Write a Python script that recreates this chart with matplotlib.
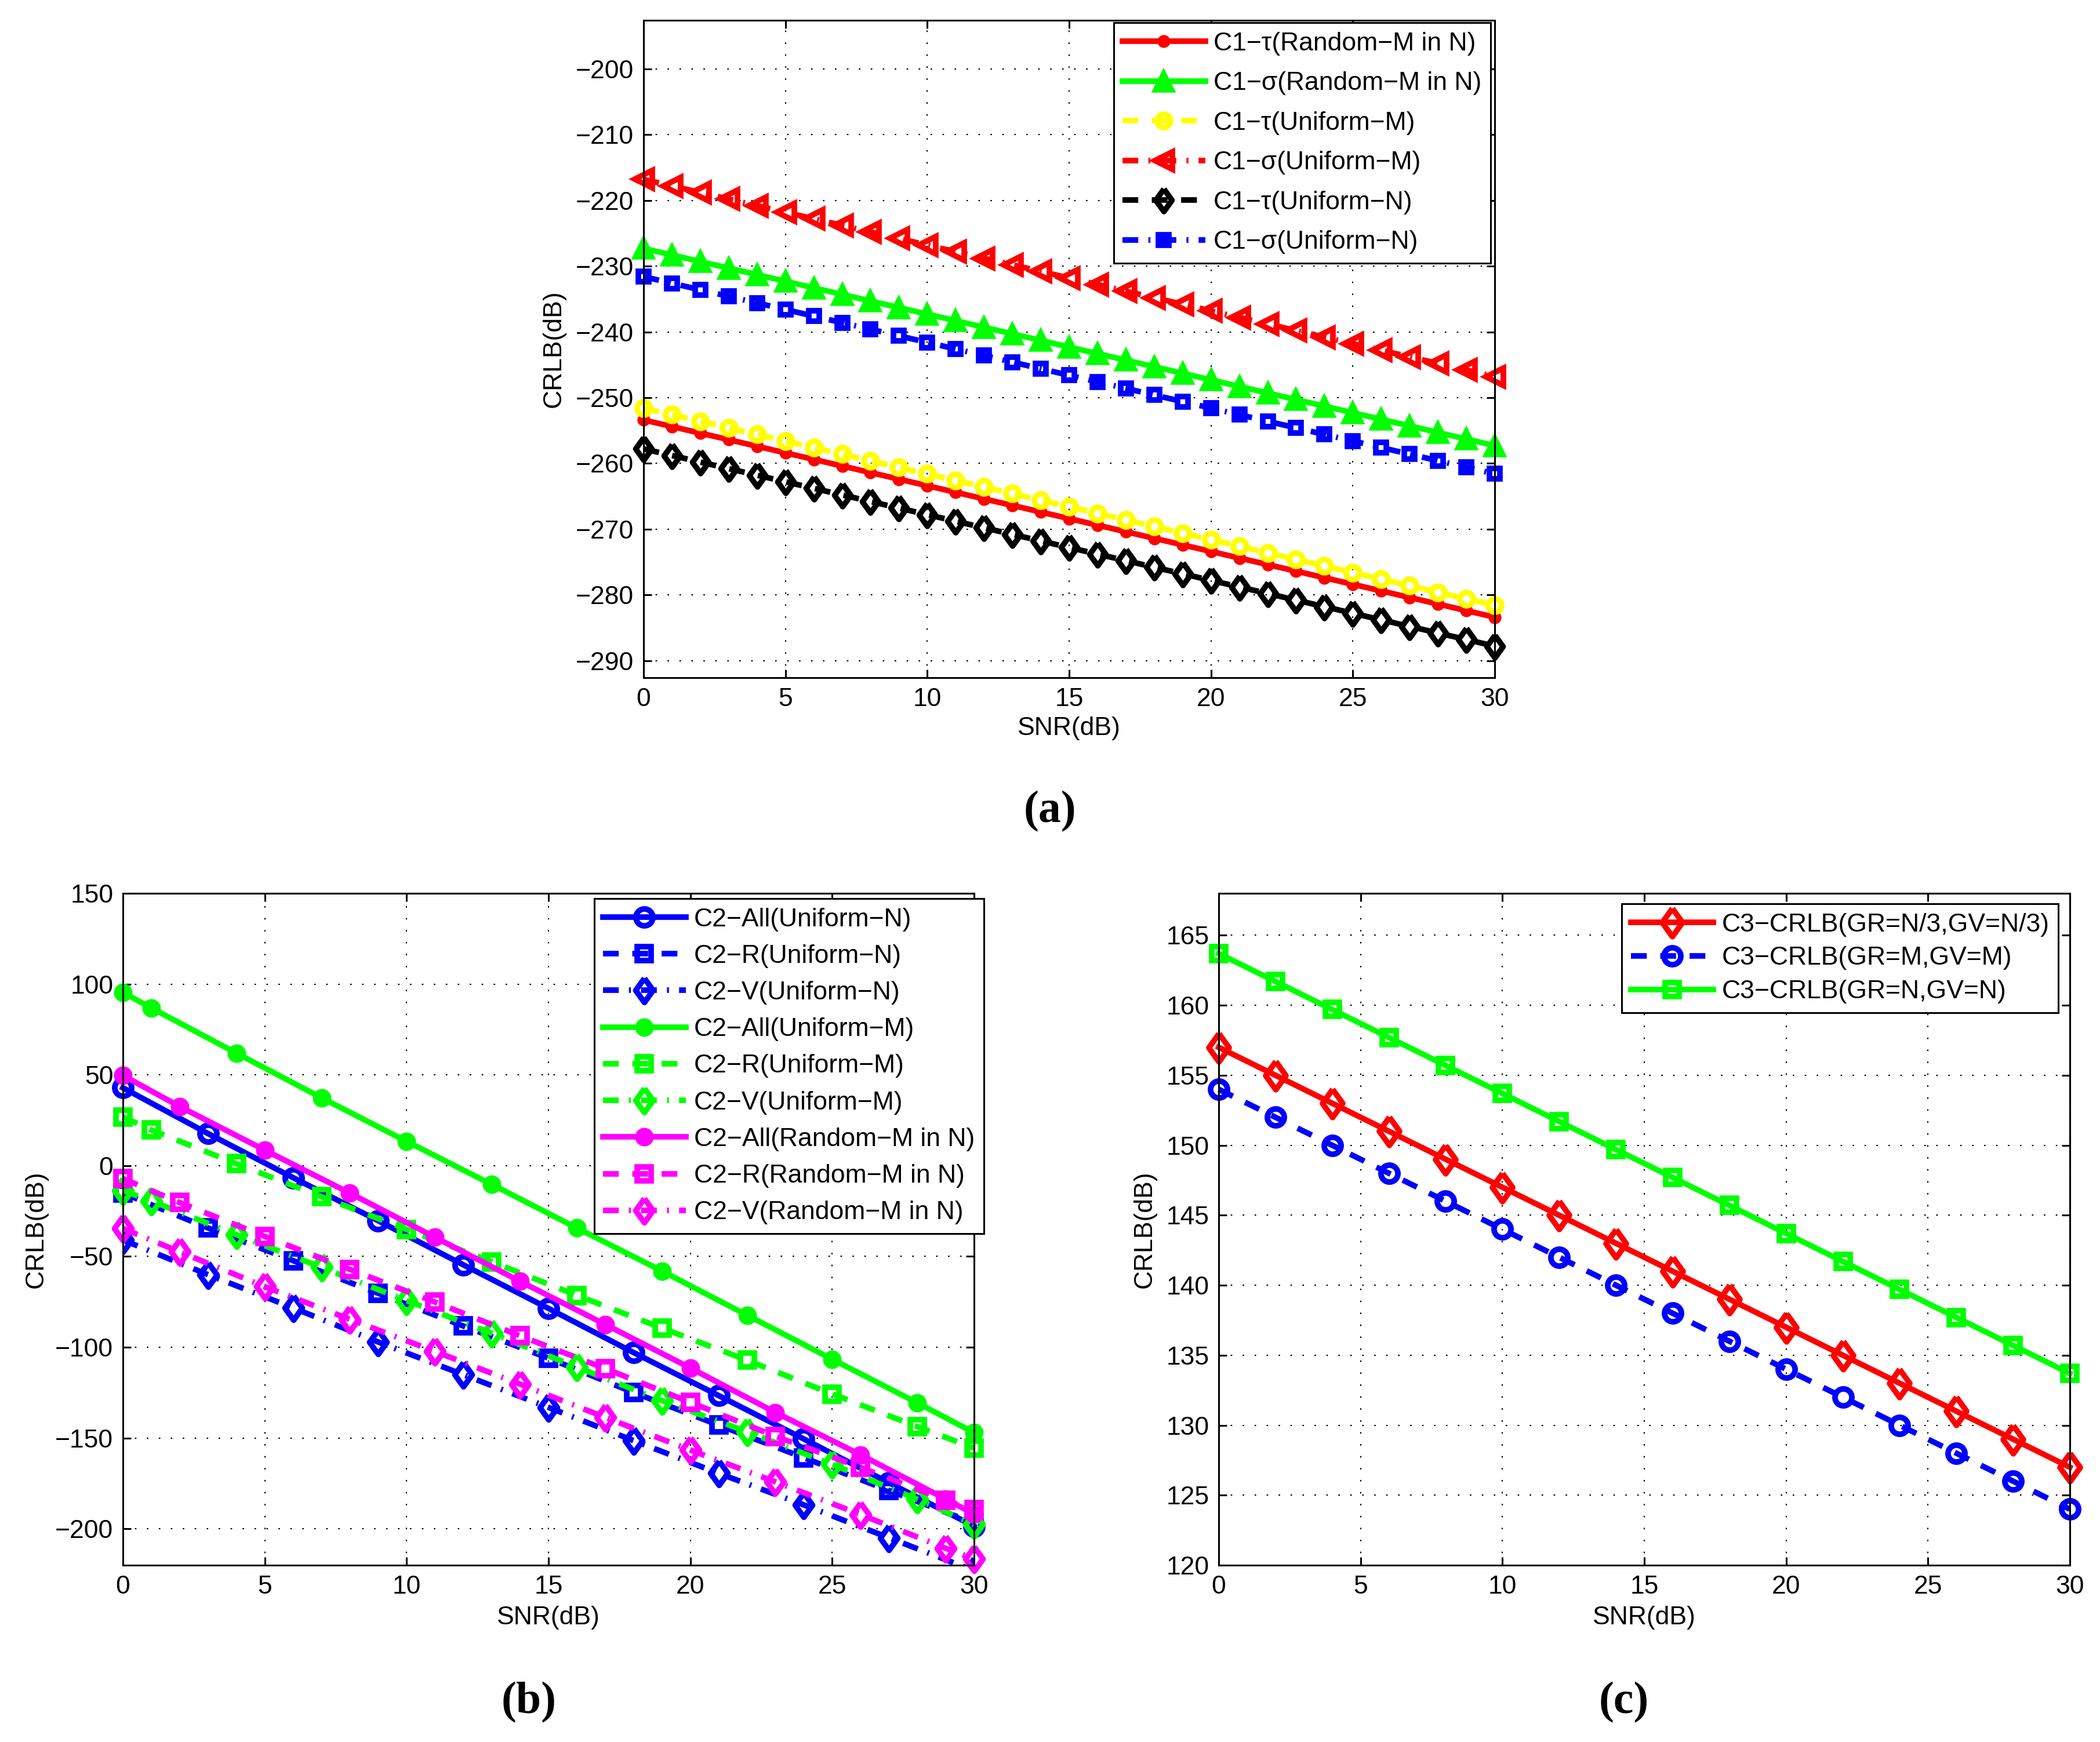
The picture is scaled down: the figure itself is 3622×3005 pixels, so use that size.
import matplotlib
matplotlib.use("Agg")
import matplotlib.pyplot as plt
from matplotlib.markers import MarkerStyle

# ── Data ──────────────────────────────────────────────────────────────────────
SNR_A = [0, 1, 2, 3, 4, 5, 6, 7, 8, 9, 10, 11, 12, 13, 14, 15,
         16, 17, 18, 19, 20, 21, 22, 23, 24, 25, 26, 27, 28, 29, 30]
C1_TAU_RM = [-253.4, -254.4, -255.4, -256.4, -257.4, -258.4, -259.4, -260.4,
             -261.4, -262.4, -263.4, -264.4, -265.4, -266.4, -267.4, -268.4,
             -269.4, -270.4, -271.4, -272.4, -273.4, -274.4, -275.4, -276.4,
             -277.4, -278.4, -279.4, -280.4, -281.4, -282.4, -283.4]
C1_SIG_RM = [-227.3, -228.3, -229.3, -230.3, -231.3, -232.3, -233.3, -234.3,
             -235.3, -236.3, -237.3, -238.3, -239.3, -240.3, -241.3, -242.3,
             -243.3, -244.3, -245.3, -246.3, -247.3, -248.3, -249.3, -250.3,
             -251.3, -252.3, -253.3, -254.3, -255.3, -256.3, -257.3]
C1_TAU_UM = [-251.6, -252.6, -253.6, -254.6, -255.6, -256.6, -257.6, -258.6,
             -259.6, -260.6, -261.6, -262.6, -263.6, -264.6, -265.6, -266.6,
             -267.6, -268.6, -269.6, -270.6, -271.6, -272.6, -273.6, -274.6,
             -275.6, -276.6, -277.6, -278.6, -279.6, -280.6, -281.6]
C1_SIG_UM = [-216.8, -217.8, -218.8, -219.8, -220.8, -221.8, -222.8, -223.8,
             -224.8, -225.8, -226.8, -227.8, -228.8, -229.8, -230.8, -231.8,
             -232.8, -233.8, -234.8, -235.8, -236.8, -237.8, -238.8, -239.8,
             -240.8, -241.8, -242.8, -243.8, -244.8, -245.8, -246.8]
C1_TAU_UN = [-257.8, -258.8, -259.8, -260.8, -261.8, -262.8, -263.8, -264.8,
             -265.8, -266.8, -267.8, -268.8, -269.8, -270.8, -271.8, -272.8,
             -273.8, -274.8, -275.8, -276.8, -277.8, -278.8, -279.8, -280.8,
             -281.8, -282.8, -283.8, -284.8, -285.8, -286.8, -287.8]
C1_SIG_UN = [-231.6, -232.6, -233.6, -234.6, -235.6, -236.6, -237.6, -238.6,
             -239.6, -240.6, -241.6, -242.6, -243.6, -244.6, -245.6, -246.6,
             -247.6, -248.6, -249.6, -250.6, -251.6, -252.6, -253.6, -254.6,
             -255.6, -256.6, -257.6, -258.6, -259.6, -260.6, -261.6]

SNR_B_UN = [0, 3, 6, 9, 12, 15, 18, 21, 24, 27, 30]
C2_ALL_UN = [42.9, 17.7, -6.6, -30.3, -54.6, -78.6, -102.9, -126.6, -150.5, -174.6, -198.5]
C2_R_UN = [-15.1, -34.3, -52.3, -70.3, -88.3, -106.0, -124.9, -142.9, -160.8, -178.9, -196.8]
C2_V_UN = [-40.9, -60.0, -78.3, -97.1, -115.1, -133.1, -151.4, -169.4, -186.8, -204.9, -223.0]

SNR_B_UM = [0, 1, 4, 7, 10, 13, 16, 19, 22, 25, 28, 30]
C2_ALL_UM = [95.4, 86.9, 62.0, 37.4, 13.4, -10.3, -34.3, -58.0, -82.3, -106.6, -130.6, -147.0]
C2_R_UM = [26.9, 19.7, 1.1, -17.1, -35.1, -52.9, -71.4, -89.4, -107.1, -125.7, -143.7, -155.5]
C2_V_UM = [-13.7, -19.4, -38.0, -56.0, -74.3, -92.3, -110.9, -129.4, -146.5, -164.5, -183.7, -197.5]

SNR_B_RM = [0, 2, 5, 8, 11, 14, 17, 20, 23, 26, 29, 30]
C2_ALL_RM = [49.7, 32.6, 8.6, -15.1, -39.4, -63.7, -87.4, -111.4, -135.9, -159.2, -183.6, -191.8]
C2_R_RM = [-7.1, -20.3, -38.9, -57.1, -75.1, -93.7, -111.7, -130.3, -149.0, -166.1, -184.2, -189.5]
C2_V_RM = [-34.6, -47.4, -66.6, -84.6, -102.3, -120.3, -138.6, -156.6, -174.1, -192.1, -210.7, -216.6]

SNR_C = [0, 2, 4, 6, 8, 10, 12, 14, 16, 18, 20, 22, 24, 26, 28, 30]
C3_N3 = [157, 155, 153, 151, 149, 147, 145, 143, 141, 139, 137, 135, 133, 131, 129, 127]
C3_M = [154, 152, 150, 148, 146, 144, 142, 140, 138, 136, 134, 132, 130, 128, 126, 124]
C3_N = [163.7, 161.7, 159.7, 157.7, 155.7, 153.7, 151.7, 149.7, 147.7, 145.7,
        143.7, 141.7, 139.7, 137.7, 135.7, 133.7]

X_TICKS = [0, 5, 10, 15, 20, 25, 30]
Y_TICKS_A = [-290, -280, -270, -260, -250, -240, -230, -220, -210, -200]
Y_TICKS_B = [-200, -150, -100, -50, 0, 50, 100, 150]
Y_TICKS_C = [120, 125, 130, 135, 140, 145, 150, 155, 160, 165]

# ── Styling ───────────────────────────────────────────────────────────────────
plt.rcParams["font.family"] = ["Liberation Sans", "DejaVu Sans"]
plt.rcParams["font.size"] = 32
plt.rcParams["axes.unicode_minus"] = True

W, H = 3622, 3005
LW = 7
SOLID = "-"
DASHED = (0, (2.8, 2.4))
DASHDOT = (0, (2.8, 1.8, 0.35, 1.8))
GRID_LS = (0, (1.3, 8.6))
GREEN = "#00ff00"
# MATLAB-like diamond (a bit narrower than tall)
DIAMOND = MarkerStyle([(0, 1), (0.72, 0), (0, -1), (-0.72, 0), (0, 1)], joinstyle="miter")

fig = plt.figure(figsize=(W / 100, H / 100), dpi=100)


def px_axes(left, top, right, bottom):
    return fig.add_axes([left / W, 1 - bottom / H, (right - left) / W, (bottom - top) / H])


def series(ax, x, y, color, ls, marker, ms, filled, label, clip=False):
    ax.plot(x, y, color=color, linestyle=ls, linewidth=LW,
            marker=marker, markersize=ms,
            markeredgewidth=4 if filled else LW,
            markerfacecolor=color if filled else "none",
            markeredgecolor=color, label=label, clip_on=clip)


def style_axes(ax, ylim, yticks, ylab_x, xlab_y):
    ax.set_xlim(0, 30)
    ax.set_ylim(*ylim)
    ax.set_xticks(X_TICKS)
    ax.set_yticks(yticks)
    ax.grid(True, color="black", linestyle=GRID_LS, linewidth=1.5)
    ax.set_axisbelow(True)
    ax.tick_params(direction="in", top=True, right=True, length=10, width=2.2,
                   pad=12, labelsize=32)
    for s in ax.spines.values():
        s.set_linewidth(2.2)
    ax.set_xlabel("SNR(dB)", fontsize=32)
    ax.set_ylabel("CRLB(dB)", fontsize=32)
    ax.yaxis.set_label_coords(ylab_x, 0.5)
    ax.xaxis.set_label_coords(0.5, xlab_y)


def legend(ax, right_px, top_px, spacing):
    leg = ax.legend(loc="upper right", bbox_to_anchor=(right_px / W, 1 - top_px / H),
                    bbox_transform=fig.transFigure, borderaxespad=0, fontsize=32,
                    handlelength=3.2, handletextpad=0.33, borderpad=0.35,
                    labelspacing=spacing, fancybox=False, framealpha=1,
                    edgecolor="black")
    leg.get_frame().set_linewidth(2.2)


# ── (a) ──────────────────────────────────────────────────────────────────────
ax_a = px_axes(1110, 35, 2578, 1169)
series(ax_a, SNR_A, C1_TAU_RM, "red", SOLID, "o", 12, True, "C1−τ(Random−M in N)")
series(ax_a, SNR_A, C1_SIG_RM, GREEN, SOLID, "^", 24, True, "C1−σ(Random−M in N)")
series(ax_a, SNR_A, C1_TAU_UM, "yellow", DASHED, "o", 16.5, False, "C1−τ(Uniform−M)")
series(ax_a, SNR_A, C1_SIG_UM, "red", DASHDOT, "<", 22, False, "C1−σ(Uniform−M)")
series(ax_a, SNR_A, C1_TAU_UN, "black", DASHED, DIAMOND, 28, False, "C1−τ(Uniform−N)")
series(ax_a, SNR_A, C1_SIG_UN, "blue", DASHDOT, "s", 12.5, False, "C1−σ(Uniform−N)")
style_axes(ax_a, (-292.6, -192.6), Y_TICKS_A, -0.0913, -0.059)
legend(ax_a, 2571, 39, 0.62)

# ── (b) ──────────────────────────────────────────────────────────────────────
ax_b = px_axes(212, 1541, 1680, 2700)
series(ax_b, SNR_B_UN, C2_ALL_UN, "blue", SOLID, "o", 21, False, "C2−All(Uniform−N)")
series(ax_b, SNR_B_UN, C2_R_UN, "blue", DASHED, "s", 17, False, "C2−R(Uniform−N)")
series(ax_b, SNR_B_UN, C2_V_UN, "blue", DASHDOT, DIAMOND, 30, False, "C2−V(Uniform−N)", clip=True)
series(ax_b, SNR_B_UM, C2_ALL_UM, GREEN, SOLID, "o", 19, True, "C2−All(Uniform−M)")
series(ax_b, SNR_B_UM, C2_R_UM, GREEN, DASHED, "s", 17, False, "C2−R(Uniform−M)")
series(ax_b, SNR_B_UM, C2_V_UM, GREEN, DASHDOT, DIAMOND, 30, False, "C2−V(Uniform−M)")
series(ax_b, SNR_B_RM, C2_ALL_RM, "magenta", SOLID, "o", 19, True, "C2−All(Random−M in N)")
series(ax_b, SNR_B_RM, C2_R_RM, "magenta", DASHED, "s", 17, False, "C2−R(Random−M in N)")
series(ax_b, SNR_B_RM, C2_V_RM, "magenta", DASHDOT, DIAMOND, 30, False, "C2−V(Random−M in N)")
style_axes(ax_b, (-220, 150), Y_TICKS_B, -0.0879, -0.0604)
legend(ax_b, 1697, 1550, 0.5)

# ── (c) ──────────────────────────────────────────────────────────────────────
ax_c = px_axes(2102, 1541, 3570, 2700)
series(ax_c, SNR_C, C3_N3, "red", SOLID, DIAMOND, 35, False, "C3−CRLB(GR=N/3,GV=N/3)")
series(ax_c, SNR_C, C3_M, "blue", DASHED, "o", 21, False, "C3−CRLB(GR=M,GV=M)")
series(ax_c, SNR_C, C3_N, GREEN, SOLID, "s", 17.5, False, "C3−CRLB(GR=N,GV=N)")
style_axes(ax_c, (120, 168), Y_TICKS_C, -0.0729, -0.0604)
legend(ax_c, 3550, 1559, 0.38)

# ── panel captions ───────────────────────────────────────────────────────────
cap = dict(ha="center", va="center", fontsize=56, fontweight="bold",
           family=["Liberation Serif", "DejaVu Serif"])
fig.text(0.5, 1 - 1400 / H, "(a)", **cap)
fig.text(912 / W, 1 - 2937 / H, "(b)", **cap)
fig.text(2801 / W, 1 - 2937 / H, "(c)", **cap)

fig.savefig("out.png", dpi=100, facecolor="white")
